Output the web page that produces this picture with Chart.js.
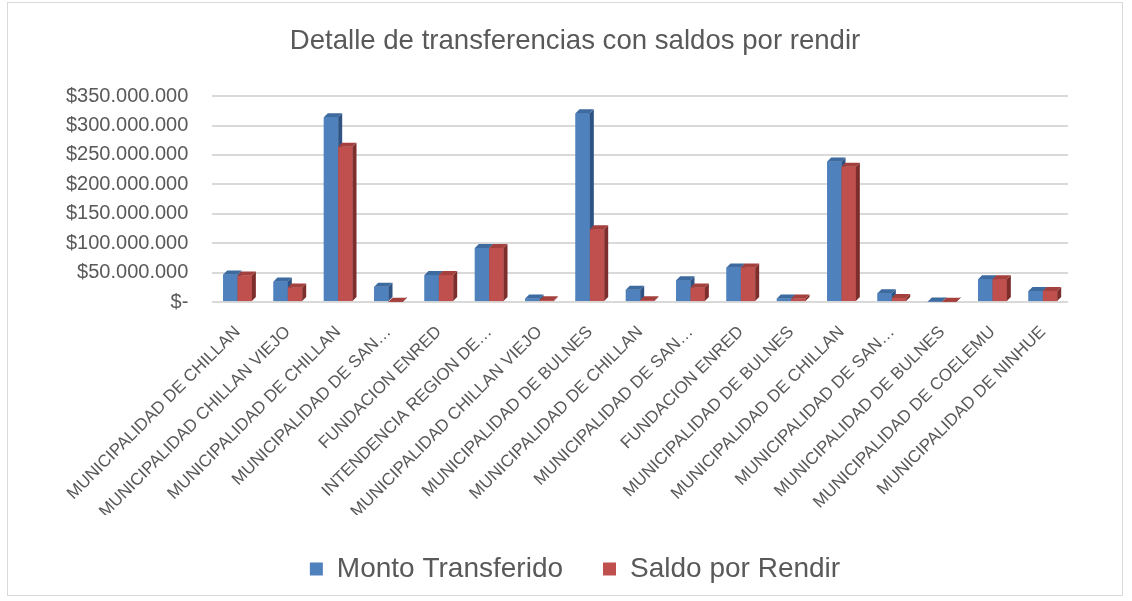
<!DOCTYPE html>
<html>
<head>
<meta charset="utf-8">
<script src="https://cdn.jsdelivr.net/npm/chart.js@4"></script>
<style>
  html, body { margin: 0; padding: 0; background: #fff; }
  #wrap { position: relative; width: 1132px; height: 601px; }
  #frame { position: absolute; left: 7px; top: 2px; width: 1116px; height: 594px; border: 1px solid #d9d9d9; box-sizing: border-box; }
  canvas { position: absolute; left: 0; top: 0; }
</style>
</head>
<body>
<div id="wrap">
  <div id="frame"></div>
  <canvas id="transferChart" width="1132" height="601"></canvas>
</div>
<script>
// categorias (beneficiarios), tal como aparecen en el eje
const categories = [
  'MUNICIPALIDAD DE CHILLAN',
  'MUNICIPALIDAD CHILLAN VIEJO',
  'MUNICIPALIDAD DE CHILLAN',
  'MUNICIPALIDAD DE SAN…',
  'FUNDACION ENRED',
  'INTENDENCIA REGION DE…',
  'MUNICIPALIDAD CHILLAN VIEJO',
  'MUNICIPALIDAD DE BULNES',
  'MUNICIPALIDAD DE CHILLAN',
  'MUNICIPALIDAD DE SAN…',
  'FUNDACION ENRED',
  'MUNICIPALIDAD DE BULNES',
  'MUNICIPALIDAD DE CHILLAN',
  'MUNICIPALIDAD DE SAN…',
  'MUNICIPALIDAD DE BULNES',
  'MUNICIPALIDAD DE COELEMU',
  'MUNICIPALIDAD DE NINHUE'
];

// valores estimados desde el grafico
const montoTransferido = [
  47000000, 35000000, 314000000, 26000000, 46000000, 92000000, 6000000,
  321000000, 21000000, 37000000, 59000000, 6000000, 239000000, 15000000,
  1000000, 39000000, 19000000
];
const saldoPorRendir = [
  45000000, 25000000, 264000000, 500000, 46000000, 92000000, 3000000,
  124000000, 3000000, 25000000, 59000000, 6000000, 230000000, 7000000,
  800000, 39000000, 19000000
];

const yTicksMax = 350000000;
const yTicksStep = 50000000;

function formatPeso(v) {
  if (v === 0) return '$-';
  return '$' + String(v).replace(/\B(?=(\d{3})+(?!\d))/g, '.');
}

// efecto 3D sencillo: se redibujan las barras en orden (azul primero, rojo encima)
const sideColors = [
  { top: '#3d6a9f', side: '#2f5484' },
  { top: '#a4403d', side: '#7d2e2c' }
];
const bars3d = {
  id: 'bars3d',
  afterDatasetsDraw(chart) {
    const ctx = chart.ctx;
    const d = 4;
    chart.data.datasets.forEach((ds, i) => {
      const meta = chart.getDatasetMeta(i);
      const cols = sideColors[i];
      meta.data.forEach(bar => {
        const p = bar.getProps(['x', 'y', 'base', 'width'], true);
        const left = p.x - p.width / 2;
        const right = p.x + p.width / 2;
        bar.draw(ctx);
        ctx.save();
        ctx.fillStyle = cols.side;
        ctx.beginPath();
        ctx.moveTo(right, p.y);
        ctx.lineTo(right + d, p.y - d);
        ctx.lineTo(right + d, p.base - d);
        ctx.lineTo(right, p.base);
        ctx.closePath();
        ctx.fill();
        ctx.fillStyle = cols.top;
        ctx.beginPath();
        ctx.moveTo(left, p.y);
        ctx.lineTo(left + d, p.y - d);
        ctx.lineTo(right + d, p.y - d);
        ctx.lineTo(right, p.y);
        ctx.closePath();
        ctx.fill();
        ctx.restore();
      });
    });
  }
};

// titulo y leyenda algo corridos a la derecha, como en el original
const shiftBlocks = {
  id: 'shiftBlocks',
  afterLayout(chart) {
    const dx = 20;
    [chart.titleBlock, chart.legend].forEach(b => {
      if (b) { b.left += dx; b.right += dx; }
    });
  }
};

const ctx = document.getElementById('transferChart').getContext('2d');
const chart = new Chart(ctx, {
  type: 'bar',
  data: {
    labels: categories,
    datasets: [{
      label: 'Monto Transferido',
      data: montoTransferido,
      backgroundColor: '#4f81bd'
    }, {
      label: 'Saldo por Rendir',
      data: saldoPorRendir,
      backgroundColor: '#c0504d'
    }]
  },
  options: {
    responsive: false,
    animation: false,
    layout: { padding: { left: 42, right: 64, top: 10, bottom: 8 } },
    datasets: {
      bar: { categoryPercentage: 0.57, barPercentage: 1.0 }
    },
    plugins: {
      title: {
        display: true,
        text: 'Detalle de transferencias con saldos por rendir',
        color: '#595959',
        font: { family: 'Liberation Sans, Arial, sans-serif', size: 27.6, weight: 'normal' },
        padding: { top: 15, bottom: 38 }
      },
      legend: {
        position: 'bottom',
        labels: {
          color: '#595959',
          font: { family: 'Liberation Sans, Arial, sans-serif', size: 28 },
          boxWidth: 13,
          boxHeight: 13,
          padding: 40
        }
      },
      tooltip: { enabled: false }
    },
    scales: {
      x: {
        grid: { display: false },
        border: { display: false },
        afterFit: scale => { scale.height -= 19; },
        ticks: {
          color: '#595959',
          font: { family: 'Liberation Sans, Arial, sans-serif', size: 17 },
          minRotation: 45,
          maxRotation: 45,
          autoSkip: false,
          padding: 12
        }
      },
      y: {
        min: 0,
        max: yTicksMax,
        border: { display: false },
        grid: { color: '#d9d9d9', lineWidth: 2, drawTicks: false },
        ticks: {
          stepSize: yTicksStep,
          color: '#595959',
          font: { family: 'Liberation Sans, Arial, sans-serif', size: 20 },
          padding: 24,
          callback: v => formatPeso(v)
        }
      }
    }
  },
  plugins: [bars3d, shiftBlocks]
});
</script>
</body>
</html>
